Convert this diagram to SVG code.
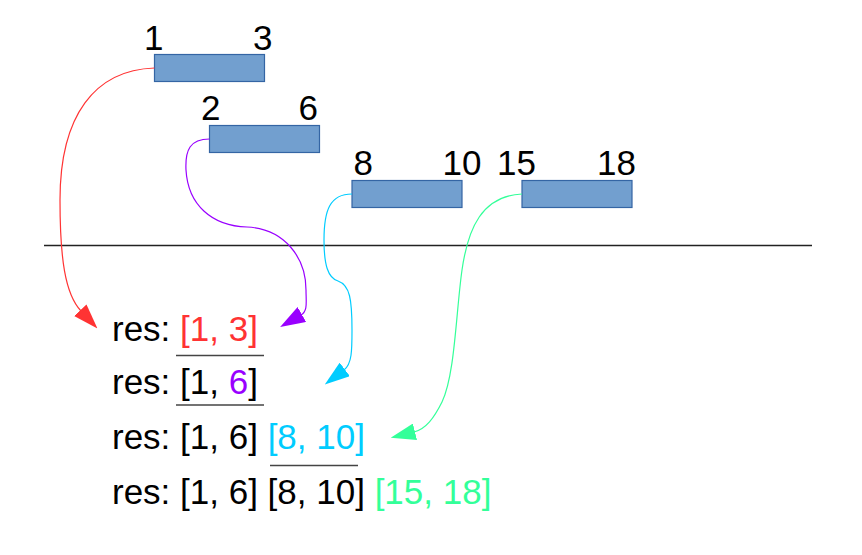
<svg xmlns="http://www.w3.org/2000/svg" width="862" height="555" viewBox="0 0 862 555">
<style>
  .bar { fill: #729fcf; stroke: #3465a4; stroke-width: 1.2; }
  .lbl { font-family: "Liberation Sans", Arial, sans-serif; font-size: 35px; fill: #000; }
  .conn { fill: none; stroke-width: 1.2; }
  .ul { stroke: #444; stroke-width: 1.3; }
  .red { fill: #ff3333; }
  .pur { fill: #9900ff; }
  .cya { fill: #00ccff; }
  .grn { fill: #33ff99; }
</style>
<defs>
  <marker id="aRed" viewBox="0 0 25 17" refX="1" refY="8.5" markerWidth="25" markerHeight="17" markerUnits="userSpaceOnUse" orient="auto"><path d="M0,0 L25,8.5 L0,17 Z" fill="#ff3333"/></marker>
  <marker id="aPur" viewBox="0 0 25 17" refX="1" refY="8.5" markerWidth="25" markerHeight="17" markerUnits="userSpaceOnUse" orient="auto"><path d="M0,0 L25,8.5 L0,17 Z" fill="#9900ff"/></marker>
  <marker id="aCya" viewBox="0 0 25 17" refX="1" refY="8.5" markerWidth="25" markerHeight="17" markerUnits="userSpaceOnUse" orient="auto"><path d="M0,0 L25,8.5 L0,17 Z" fill="#00ccff"/></marker>
  <marker id="aGrn" viewBox="0 0 25 17" refX="1" refY="8.5" markerWidth="25" markerHeight="17" markerUnits="userSpaceOnUse" orient="auto"><path d="M0,0 L25,8.5 L0,17 Z" fill="#33ff99"/></marker>
</defs>

<line x1="44" y1="245.5" x2="812" y2="245.5" stroke="#222" stroke-width="1.4"/>

<g id="interval-1-3">
  <rect class="bar" x="154.5" y="54.5" width="110" height="27"/>
  <text class="lbl" x="144" y="49.5">1</text>
  <text class="lbl" x="272.5" y="49.5" text-anchor="end">3</text>
</g>
<g id="interval-2-6">
  <rect class="bar" x="209.5" y="125.5" width="110" height="27"/>
  <text class="lbl" x="201" y="119.5">2</text>
  <text class="lbl" x="318" y="119.5" text-anchor="end">6</text>
</g>
<g id="interval-8-10">
  <rect class="bar" x="352" y="180.5" width="110" height="27"/>
  <text class="lbl" x="353.5" y="174.5">8</text>
  <text class="lbl" x="481.5" y="174.5" text-anchor="end">10</text>
</g>
<g id="interval-15-18">
  <rect class="bar" x="522" y="180.5" width="110" height="27"/>
  <text class="lbl" x="497" y="174.5">15</text>
  <text class="lbl" x="636" y="174.5" text-anchor="end">18</text>
</g>

<g id="connectors">
  <path class="conn" stroke="#ff3333" marker-end="url(#aRed)" d="M154.5,68 C95,70 60,115 60,200 C60,258 65,294 81,311"/>
  <path class="conn" stroke="#9900ff" marker-end="url(#aPur)" d="M209.5,139 C190,139 185,150 186,170 C188,205 212,226 247,227 C285,229 306,258 306,290 C306,302 308,311 301,315"/>
  <path class="conn" stroke="#00ccff" marker-end="url(#aCya)" d="M352,194 C330,194 324,210 324,240 C324,265 328,278 338,281 C350,285 352,300 352,330 C352,350 352,364 344,370"/>
  <path class="conn" stroke="#33ff99" marker-end="url(#aGrn)" d="M522,194 C482,196 468,228 462,270 C456,312 455,375 442,402 C434,418 426,429 414,432"/>
</g>

<g id="res-1">
  <text class="lbl" x="112" y="340.5">res: <tspan class="red">[1, 3]</tspan></text>
  <line class="ul" x1="176" y1="355.5" x2="264" y2="355.5"/>
</g>
<g id="res-2">
  <text class="lbl" x="112" y="393.5">res: [1, <tspan class="pur">6</tspan>]</text>
  <line class="ul" x1="176" y1="405" x2="264" y2="405"/>
</g>
<g id="res-3">
  <text class="lbl" x="112" y="448.5">res: [1, 6] <tspan class="cya">[8, 10]</tspan></text>
  <line class="ul" x1="270" y1="465.5" x2="358" y2="465.5"/>
</g>
<g id="res-4">
  <text class="lbl" x="112" y="504">res: [1, 6] [8, 10] <tspan class="grn">[15, 18]</tspan></text>
</g>
</svg>
